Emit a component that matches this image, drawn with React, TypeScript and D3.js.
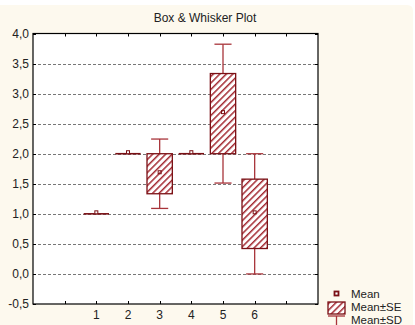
import React from "react";
import * as d3 from "d3";

const categories = ["1", "2", "3", "4", "5", "6"];
const means = [1.0, 2.0, 1.667, 2.0, 2.667, 1.0];
const seValues = [0, 0, 0.333, 0, 0.667, 0.577];
const sdValues = [0, 0, 0.577, 0, 1.155, 1.0];
const yTicks = [-0.5, 0, 0.5, 1, 1.5, 2, 2.5, 3, 3.5, 4];
const xTickPositions = [0, 1, 2, 3, 4, 5, 6, 7];
const legendItems = ["Mean", "Mean±SE", "Mean±SD"];

const W = 415;
const H = 325;
const font = "'Liberation Sans', Arial, sans-serif";
const boxColor = "#7a0f14";
const whiskerColor = "#a8343a";

export default function App() {
  const x = d3.scaleLinear().domain([-1, 8]).range([33, 318]);
  const y = d3.scaleLinear().domain([-0.5, 4.0]).range([304, 33.5]);
  const halfBox = 0.4;
  const halfCap = 0.27;
  const fmt = (v: number) => d3.format(".1f")(v).replace(".", ",").replace("−", "-");

  return (
    <svg width={W} height={H} style={{ position: "absolute", left: 0, top: 0 }}>
      <defs>
        <pattern id="hatch" patternUnits="userSpaceOnUse" width="4.6" height="4.6" patternTransform="rotate(45)">
          <rect width="4.6" height="4.6" fill="#ffffff" />
          <rect x="0" y="0" width="1.5" height="4.6" fill="#a32a32" />
        </pattern>
      </defs>
      <rect x={0} y={0} width={W} height={H} fill="#ffffff" />
      <path d={`M0,5 H407 Q413,5 413,11 V${H} H0 Z`} fill="#fdf9ee" />
      <rect x={x(-1)} y={y(4)} width={x(8) - x(-1)} height={y(-0.5) - y(4)} fill="#ffffff" />

      {/* grid lines */}
      {yTicks.filter((t) => t > -0.5 && t < 4).map((t) => (
        <line key={"g" + t} x1={x(-1)} x2={x(8)} y1={Math.round(y(t)) + 0.5} y2={Math.round(y(t)) + 0.5}
          stroke="#777" strokeWidth={1} strokeDasharray="3,2" />
      ))}

      {/* axis ticks */}
      {xTickPositions.map((t) => (
        <g key={"xt" + t}>
          <line x1={Math.round(x(t)) + 0.5} x2={Math.round(x(t)) + 0.5} y1={y(4)} y2={y(4) + 3} stroke="#000" />
          <line x1={Math.round(x(t)) + 0.5} x2={Math.round(x(t)) + 0.5} y1={y(-0.5)} y2={y(-0.5) - 3} stroke="#000" />
        </g>
      ))}
      {yTicks.map((t) => (
        <g key={"yt" + t}>
          <line x1={x(-1)} x2={x(-1) + 3} y1={Math.round(y(t)) + 0.5} y2={Math.round(y(t)) + 0.5} stroke="#000" />
          <line x1={x(8)} x2={x(8) - 3} y1={Math.round(y(t)) + 0.5} y2={Math.round(y(t)) + 0.5} stroke="#000" />
          <text x={29} y={y(t) + 4.3} textAnchor="end" fontFamily={font} fontSize={12} fill="#222">{fmt(t)}</text>
        </g>
      ))}

      {/* whiskers, boxes, means */}
      {categories.map((c, i) => {
        const cx = x(i + 1);
        const m = means[i];
        const se = seValues[i];
        const sd = sdValues[i];
        const bx0 = x(i + 1 - halfBox);
        const bx1 = x(i + 1 + halfBox);
        const cx0 = x(i + 1 - halfCap);
        const cx1 = x(i + 1 + halfCap);
        const top = y(m + se);
        const bot = y(m - se);
        return (
          <g key={"c" + c}>
            {sd > 0 && (
              <g stroke={whiskerColor} strokeWidth={1.3}>
                <line x1={cx} x2={cx} y1={y(m + sd)} y2={top} />
                <line x1={cx0} x2={cx1} y1={y(m + sd)} y2={y(m + sd)} />
                <line x1={cx} x2={cx} y1={bot} y2={y(m - sd)} />
                <line x1={cx0} x2={cx1} y1={y(m - sd)} y2={y(m - sd)} />
              </g>
            )}
            {se > 0 ? (
              <rect x={bx0} y={top} width={bx1 - bx0} height={bot - top} fill="url(#hatch)" stroke={boxColor} strokeWidth={1.3} />
            ) : (
              <line x1={bx0} x2={bx1} y1={y(m)} y2={y(m)} stroke={boxColor} strokeWidth={1.6} />
            )}
            <rect x={cx - 1.5} y={y(m) - 3} width={3} height={3} fill={se > 0 ? "none" : "#fff"} stroke={boxColor} strokeWidth={1} />
          </g>
        );
      })}

      {/* axes frame */}
      <rect x={x(-1)} y={y(4)} width={x(8) - x(-1)} height={y(-0.5) - y(4)} fill="none" stroke="#000" strokeWidth={1.2} />

      {/* x labels */}
      {categories.map((c, i) => (
        <text key={"xl" + c} x={x(i + 1)} y={318.5} textAnchor="middle" fontFamily={font} fontSize={12} fill="#222">{c}</text>
      ))}

      {/* title */}
      <text x={205} y={22} textAnchor="middle" fontFamily={font} fontSize={12} fill="#222">Box &amp; Whisker Plot</text>

      {/* legend */}
      <rect x={334.5} y={291.5} width={4} height={4} fill="#fff" stroke={boxColor} strokeWidth={1.8} />
      <rect x={328} y={302} width={17} height={12} fill="url(#hatch)" stroke={boxColor} strokeWidth={1.3} />
      <line x1={328} x2={345} y1={316} y2={316} stroke={whiskerColor} strokeWidth={1.3} />
      <line x1={336.5} x2={336.5} y1={316} y2={325} stroke={whiskerColor} strokeWidth={1.3} />
      {legendItems.map((t, i) => (
        <text key={"lg" + t} x={351} y={298 + i * 12.8} fontFamily={font} fontSize={11.5} fill="#222">{t}</text>
      ))}
    </svg>
  );
}
